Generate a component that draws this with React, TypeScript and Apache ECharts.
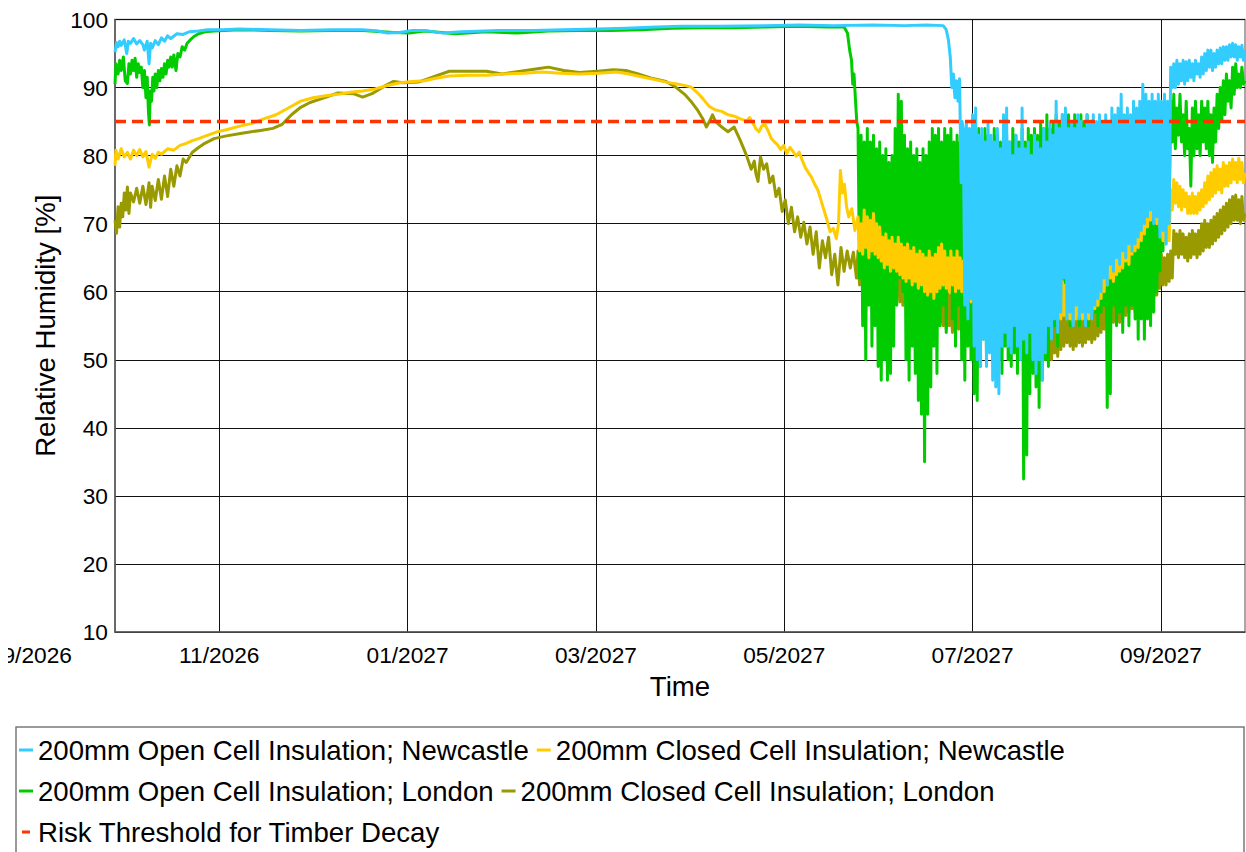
import React, { useEffect, useRef } from 'react';
import * as echarts from 'echarts';

const FONT = '"Liberation Sans", Arial, Helvetica, sans-serif';

// x values: days since the start of the record (28 Sep 2026, 12:00); one year shown
const RECORD_DAYS = 365;
// grid lines every 1460 h; the first one lies before the record start
const TICK_DAYS = [-27.17, 33.67, 94.5, 155.33, 216.17, 277.0, 337.83];
const TICK_LABELS = ['09/2026', '11/2026', '01/2027', '03/2027', '05/2027', '07/2027', '09/2027'];

const Y_MIN = 10;
const Y_MAX = 100;
const THRESHOLD = 85;

const NAMES = {
  ncOpen: '200mm Open Cell Insulation; Newcastle',
  ncClosed: '200mm Closed Cell Insulation; Newcastle',
  ldOpen: '200mm Open Cell Insulation; London',
  ldClosed: '200mm Closed Cell Insulation; London',
  risk: 'Risk Threshold for Timber Decay',
};

// ---- Newcastle, open cell: trace, then daily highs / lows from day 274 ----
const ncOpenTrace = [
  [0, 95.2], [0.5, 96.6], [1, 96.0], [1.5, 96.8], [2, 96.2], [3, 97.0], [3.8, 95.0], [4.3, 96.8], [5, 96.5], [6, 97.2],
  [7, 96.4], [8, 96.9], [9, 96.3], [9.5, 95.5], [10.4, 96.8], [11, 93.5], [11.5, 96.5], [12, 95.8], [13, 96.9], [14, 96.3],
  [15, 97.3], [16, 96.8], [17, 97.6], [18, 97.2], [20, 97.9], [22, 97.8], [24, 98.2], [27, 98.3], [30, 98.5], [35, 98.5],
  [40, 98.6], [50, 98.5], [60, 98.4], [70, 98.5], [80, 98.5], [85, 98.3], [88, 98.0], [92, 98.1], [96, 98.4], [100, 98.4],
  [106, 98.0], [112, 98.2], [124, 98.4], [135, 98.4], [145, 98.5], [156, 98.6], [165, 98.7], [175, 98.9], [183, 99.0], [195, 99.0],
  [210, 99.1], [221, 99.2], [232, 99.1], [245, 99.2], [255, 99.1], [262, 99.2], [267.5, 99.1], [268.5, 98.5], [269.2, 97.0], [269.8, 94.5],
  [270.3, 90.0], [270.8, 92.0], [271.3, 88.5], [271.8, 91.0], [272.3, 88.0], [272.8, 91.3], [273.3, 76.0], [273.6, 85.0],
];
const ncOpenDailyStart = 274;
const ncOpenHigh = [
  84, 85, 84, 86, 87, 83, 84, 82, 85, 83,
  82, 84, 81, 86, 87, 82, 80, 83, 81, 87,
  81, 82, 80, 83, 82, 81, 84, 82, 85, 83,
  88, 84, 86, 87, 84, 85, 84, 86, 85, 84,
  86, 85, 86, 85, 86, 85, 86, 85, 87, 86,
  87, 89, 86, 87, 86, 88, 87, 88, 90.5, 89,
  88, 89, 88, 89, 88, 89, 88, 93, 93.5, 94,
  93.5, 94, 93.8, 94, 93.5, 94, 93.5, 94.5, 95, 95.5,
  95.5, 95, 95.5, 95.8, 96, 96, 96.3, 96.5, 96.3, 96,
  96.2,
];
const ncOpenLow = [
  58, 56, 59, 52, 50, 49, 53, 49, 51, 47,
  46, 45, 52, 54, 52, 51, 55, 52, 50, 53,
  51, 54, 50, 48, 50, 47, 51, 55, 53, 56,
  54, 57, 62, 56, 57, 55, 58, 56, 57, 55,
  57, 56, 58, 59, 60, 62, 61, 64, 63, 65,
  64, 66, 65, 67, 66, 67, 68, 69, 70, 71,
  72, 70, 71, 68, 69, 67, 70, 90, 90, 90.5,
  91, 90.5, 91, 91.5, 91, 92, 91.5, 92, 92.5, 93,
  92.5, 93, 93.5, 93.5, 94, 94, 94.5, 94.5, 94, 94.5,
  94,
];
const ncOpenEnd = [365, 95.5];

// ---- London, open cell ----
const ldOpenTrace = [
  [0, 90.5], [0.3, 93.5], [1, 92.0], [1.5, 94.0], [2, 92.5], [2.7, 94.5], [3.3, 91.0], [4, 90.6], [4.5, 93.5], [5, 92.0],
  [5.5, 94.0], [6, 92.5], [6.5, 94.3], [7, 91.5], [7.5, 93.5], [8, 92.2], [8.5, 93.0], [9, 90.0], [9.5, 92.5], [10, 88.5],
  [10.4, 91.5], [10.8, 86.5], [11.1, 84.5], [11.4, 89.5], [11.8, 88.0], [12.2, 91.5], [12.6, 89.5], [13, 92.0], [13.5, 90.0], [14, 92.5],
  [14.5, 91.0], [15, 92.8], [15.5, 91.5], [16, 93.5], [16.5, 92.0], [17, 94.0], [17.5, 93.0], [18, 94.5], [18.5, 93.0], [19, 94.8],
  [19.7, 92.5], [20.3, 95.0], [21, 94.5], [21.7, 96.0], [22.5, 95.5], [23.3, 96.5], [24.3, 97.0], [25.5, 97.5], [27, 97.9], [29, 98.2],
  [32, 98.3], [40, 98.5], [50, 98.4], [60, 98.3], [70, 98.4], [80, 98.4], [90, 98.1], [95, 98.0], [100, 98.3], [110, 97.9],
  [120, 98.2], [130, 98.0], [140, 98.3], [150, 98.4], [160, 98.4], [170, 98.5], [180, 98.7], [190, 98.8], [200, 98.8], [210, 98.9],
  [220, 99.0], [230, 98.9], [235.5, 98.9], [236.6, 98.0], [237.3, 95.5], [237.9, 94.0], [238.3, 90.5], [238.7, 92.0], [239.2, 88.0], [239.6, 85.0],
];
const ldOpenDailyStart = 240;
const ldOpenHigh = [
  84, 83, 82, 84, 82, 83, 81, 82, 80, 81,
  79, 80, 84, 89, 88, 83, 81, 82, 80, 81,
  79, 81, 80, 82, 84, 83, 84, 82, 84, 83,
  84, 82, 83, 82, 83, 84, 82, 84, 83, 84,
  82, 84, 83, 82, 84, 83, 82, 84, 83, 82,
  84, 83, 82, 84, 82, 84, 83, 84, 83, 85,
  84, 86, 84, 85, 86, 85, 86, 85, 86, 85,
  86, 85, 86, 85, 86, 84, 85, 84, 83, 80,
  76, 74, 78, 76, 80, 78, 82, 80, 82, 81,
  83, 84, 82, 80, 79, 78, 76, 75, 76, 77,
  80, 88, 89, 87, 89, 86, 88, 84, 87, 88,
  86, 88, 87, 88, 86, 87, 89, 90, 91, 92,
  91, 93, 93.5, 92, 93,
];
const ldOpenLow = [
  62, 55, 50, 58, 52, 55, 49, 47, 50, 47,
  48, 52, 58, 62, 60, 50, 47, 52, 48, 44,
  42, 35, 42, 46, 52, 48, 55, 58, 54, 60,
  56, 52, 58, 50, 47, 52, 50, 45, 44, 49,
  53, 51, 54, 50, 52, 50, 48, 52, 50, 49,
  51, 48, 52, 32.5, 36, 45, 48, 46, 43, 47,
  50, 49, 53, 55, 52, 57, 58, 56, 55, 58,
  57, 55, 58, 56, 55, 58, 57, 55, 57, 58,
  43, 45, 58, 55, 57, 54, 58, 55, 58, 56,
  53, 56, 53, 56, 55, 57, 60, 63, 66, 70,
  72, 82, 81, 83, 82, 80, 81, 75.5, 80, 81,
  80, 82, 81, 80, 79, 82, 84, 85, 86, 88,
  87, 89, 90, 90, 90.5,
];
const ldOpenEnd = [365, 91];

// ---- Newcastle, closed cell ----
const ncClosedTrace = [
  [0, 78.5], [0.3, 80.8], [1, 79.5], [2, 81.0], [3, 79.8], [4, 80.5], [5, 79.5], [6, 80.8], [7, 80.0], [8, 80.9],
  [9, 79.8], [10, 80.6], [11, 78.3], [12, 80.2], [13, 79.6], [14, 80.5], [15, 80.2], [17, 81.0], [19, 80.8], [21, 81.5],
  [23, 81.8], [25, 82.2], [27, 82.5], [30, 83.0], [33, 83.5], [36, 83.8], [40, 84.3], [44, 84.7], [48, 85.4], [52, 86.0],
  [56, 87.0], [60, 88.0], [64, 88.5], [68, 88.8], [72, 89.0], [76, 89.3], [80, 89.5], [84, 89.8], [88, 90.3], [92, 90.7],
  [96, 90.9], [100, 91.0], [104, 91.4], [108, 91.7], [114, 91.8], [120, 91.8], [126, 92.0], [132, 92.1], [138, 92.3], [144, 92.1],
  [150, 92.0], [156, 92.1], [162, 92.3], [166, 92.0], [170, 91.6], [174, 91.2], [178, 90.8], [182, 90.5], [186, 90.1], [188, 89.3],
  [190, 88.3], [192, 87.2], [194, 86.7], [196, 86.5], [198, 86.0], [200, 85.8], [202, 85.4], [204, 85.1], [205, 85.6], [206, 84.8],
  [207, 84.0], [208, 83.5], [209, 84.4], [210, 84.5], [211, 83.6], [212, 82.5], [213, 82.0], [214, 81.6], [215, 80.9], [216, 81.5],
  [217, 80.3], [218, 81.2], [219, 80.6], [220, 79.9], [221, 80.5], [222, 79.3], [223, 78.2], [224, 77.5], [225, 76.8], [226, 75.8],
  [227, 75.0], [228, 73.5], [229, 72.0], [230, 70.5], [231, 68.8], [232, 69.3], [233, 67.8], [233.7, 70.0], [234.3, 77.8], [235, 74.5],
  [235.6, 75.8], [236.3, 72.5], [237, 71.0], [238, 72.2], [239, 69.0],
];
const ncClosedDailyStart = 240;
const ncClosedHigh = [
  71, 70, 72, 71, 70.5, 71.5, 70, 69.5, 68, 68.5,
  67.5, 68, 67, 68, 67, 66.5, 67, 66, 66.5, 65.5,
  66, 65.5, 65, 66, 65, 65.5, 66.5, 67, 66, 65,
  66, 65, 66, 65, 64.5, 65, 64, 64.5, 63.5, 64,
  65, 64, 63.5, 64, 63, 64, 63.5, 64, 63, 63.5,
  64, 63, 62.5, 63, 62.5, 63, 62, 62.5, 62, 61.5,
  62, 61.5, 62, 61, 61.5, 61, 61.5, 61, 60.5, 61,
  60.5, 61, 61.5, 61, 61.5, 62, 62.5, 63, 64, 65,
  66, 67, 66.5, 68, 67.5, 69, 70, 69.5, 71, 72,
  71.5, 73, 74, 75.5, 76.5, 77, 76, 75, 71.5, 71,
  71.5, 75, 76.5, 76, 75.5, 75, 74.5, 74, 74.5, 74,
  74.5, 75, 76, 77, 77.5, 78, 78.5, 78, 79, 78.5,
  79, 79.5, 79, 79.6, 79,
];
const ncClosedLow = [
  66, 65.5, 66.5, 65, 66, 65.5, 65, 64.5, 63.5, 64,
  63, 63.5, 63, 62.5, 62, 61.5, 62, 61, 61.5, 60.5,
  61, 60, 59.5, 60, 59, 60, 60.5, 61, 60.5, 60,
  61, 60, 60.5, 60, 59.5, 59, 58.5, 59, 58, 58.5,
  59, 58, 58.5, 58, 57.5, 58, 59, 58.5, 58, 59,
  58.5, 58, 57.5, 58, 57.5, 57, 57, 57.5, 56.5, 57,
  56.5, 56.5, 57, 56.5, 56, 56, 56.5, 56, 56, 55.5,
  56, 56.5, 56, 56.5, 56, 57, 57.5, 58, 59, 60,
  61, 62, 61.5, 62.5, 63, 63.5, 64.5, 64, 65.5, 66,
  66.5, 67.5, 68.5, 69.5, 70.5, 71, 70, 69.5, 67.5, 67,
  67.5, 72, 73, 72.5, 72, 72.5, 71.5, 71.5, 71.5, 71.5,
  72, 72.5, 73, 73.5, 74, 74.5, 75, 74.5, 75.5, 75.5,
  76, 76.5, 76, 76.5, 76,
];
const ncClosedEnd = [365, 77.5];

// ---- London, closed cell ----
const ldClosedTrace = [
  [0, 70.5], [0.5, 68.6], [1, 72.5], [1.5, 69.5], [2, 73.0], [2.5, 71.0], [3, 74.5], [3.5, 72.0], [4, 75.4], [4.5, 71.5],
  [5, 74.5], [6, 73.2], [7, 75.2], [8, 73.0], [9, 75.5], [10, 72.8], [11, 76.0], [11.5, 72.4], [12, 75.5], [13, 73.4],
  [14, 76.5], [15, 73.6], [16, 77.0], [17, 74.0], [18, 78.0], [19, 75.5], [20, 78.5], [21, 77.0], [22, 79.5], [23, 79.0],
  [25, 80.5], [27, 81.2], [29, 81.8], [32, 82.5], [36, 82.9], [41, 83.3], [47, 83.7], [51, 84.0], [54, 84.6], [57, 86.0],
  [60, 87.1], [63, 87.8], [67, 88.4], [72, 89.2], [77, 89.1], [80, 88.6], [83, 89.1], [87, 90.2], [90, 90.9], [93, 90.7],
  [98, 90.8], [103, 91.6], [108, 92.4], [114, 92.4], [120, 92.4], [125, 92.0], [131, 92.4], [137, 92.8], [140, 93.0], [145, 92.5],
  [150, 92.2], [156, 92.4], [161, 92.6], [165, 92.5], [169, 92.0], [173, 91.4], [178, 90.9], [181, 90.1], [184, 89.0], [186, 88.0],
  [188, 86.8], [190, 85.3], [191, 84.2], [192, 85.0], [193, 86.0], [194, 85.0], [196, 84.2], [198, 83.5], [200, 84.2], [202, 82.2],
  [204, 80.0], [205.5, 78.0], [206.5, 79.2], [207, 77.4], [207.7, 76.2], [208.5, 79.8], [209.5, 78.0], [210.5, 78.8], [211.5, 76.0], [212.5, 77.0],
  [213.5, 74.0], [214.5, 75.2], [215.5, 71.8], [216.5, 73.5], [217.5, 70.0], [218.5, 72.4], [219.5, 68.8], [220.5, 71.0], [221.5, 68.0], [222.5, 70.2],
  [223.5, 67.0], [224.5, 69.5], [225.5, 65.5], [226.5, 68.8], [227.5, 63.5], [228.5, 67.5], [229.5, 65.0], [230.5, 68.0], [231.5, 62.5], [232.5, 65.5],
  [233.5, 61.0], [234.5, 66.5], [235.5, 63.0], [236.5, 66.0], [237.5, 63.5], [238.5, 65.8], [239.5, 62.0],
];
const ldClosedDailyStart = 240;
const ldClosedHigh = [
  66, 65.5, 66, 65, 65.5, 64.5, 65, 64, 64.5, 63.5,
  64, 63, 63.5, 63, 62.5, 63, 62, 62.5, 62, 61.5,
  62, 61, 61.5, 60.5, 61, 60, 60.5, 60, 59.5, 60,
  59.5, 59, 59.5, 59, 59.5, 59, 58.5, 59, 58.5, 58,
  58.5, 58, 57.5, 58, 57.5, 58, 58.5, 58, 57.5, 57,
  56.5, 56, 55.5, 56, 55, 55.5, 55, 55.5, 55, 54.5,
  55, 55.5, 55, 56, 55.5, 56, 57, 57.5, 57, 56.5,
  57, 57.5, 57, 57.5, 58, 57.5, 58, 58.5, 59, 59.5,
  60, 59.5, 60.5, 61, 60.5, 61, 61.5, 62, 62.5, 62,
  62.5, 63, 63.5, 63, 63.5, 64, 64.5, 65, 65.5, 65,
  65.5, 66, 69, 68.5, 69, 68.5, 68, 68.5, 69, 68.5,
  69, 70, 70.5, 70, 70.5, 71, 71.5, 72, 72.5, 73,
  73.5, 74, 74.2, 73.5, 74,
];
const ldClosedLow = [
  61, 60.5, 61, 60, 60.5, 60, 59.5, 59, 59.5, 59,
  58.5, 58, 59.5, 58.5, 58, 58.5, 57.5, 57.5, 57, 56.5,
  57, 56, 56.5, 55.5, 55.5, 55, 55.5, 55, 54.5, 55,
  54, 54.5, 54.5, 54, 54.5, 53.5, 53.5, 54, 53, 53,
  53.5, 52.5, 52.5, 53, 52.5, 53, 55, 54.5, 54, 53.5,
  52.5, 52, 51.5, 51, 50.5, 50.5, 50, 50.5, 50, 49.5,
  50, 50.5, 50, 51, 50.5, 51.5, 52, 52.5, 52, 51.5,
  52, 52.5, 52, 52.5, 53, 52.5, 53, 53.5, 54, 54.5,
  55, 54.5, 55.5, 56, 55.5, 56, 56.5, 57, 57.5, 57,
  57.5, 58, 58.5, 58, 58.5, 59, 59.5, 60.5, 61, 61,
  61.5, 62, 65.5, 65, 65.5, 65, 64.5, 65, 65.5, 65,
  65.5, 66, 66.5, 66.5, 67, 67.5, 68, 68.5, 69, 69.5,
  70, 70.5, 70.5, 70, 70.5,
];
const ldClosedEnd = [365, 71.5];

const COLORS = {
  ncOpen: '#33CCFF',
  ncClosed: '#FFCC00',
  ldOpen: '#00CC00',
  ldClosed: '#999900',
  risk: '#FF3300',
};

// trace points, then each day's high (at the day) and low (half a day later)
function buildSeriesData(trace, dailyStart, highs, lows, end) {
  const pts = trace.map((p) => [p[0], p[1]]);
  highs.forEach((h, i) => {
    pts.push([dailyStart + i, h]);
    pts.push([dailyStart + i + 0.5, lows[i]]);
  });
  pts.push([end[0], end[1]]);
  return pts;
}

function tickLabel(v) {
  for (let i = 0; i < TICK_DAYS.length; i++) {
    if (Math.abs(TICK_DAYS[i] - v) < 0.01) return TICK_LABELS[i];
  }
  return '';
}

const AXIS_LABEL_SIZE = 22.7;
const NAME_SIZE = 27.6;
const X_LABEL_MARGIN = 11;

function lineSeries(name, color, data, extra = {}) {
  return {
    name,
    type: 'line',
    data,
    color,
    showSymbol: false,
    symbol: 'none',
    silent: true,
    clip: true,
    emphasis: { disabled: true },
    itemStyle: { color },
    lineStyle: { color, width: 3, join: 'round', ...extra },
    z: 2,
  };
}

export default function App() {
  const ref = useRef(null);

  useEffect(() => {
    if (!ref.current) return;
    const chart = echarts.init(ref.current, null, { renderer: 'svg' });

    const ldOpen = buildSeriesData(ldOpenTrace, ldOpenDailyStart, ldOpenHigh, ldOpenLow, ldOpenEnd);
    const ldClosed = buildSeriesData(ldClosedTrace, ldClosedDailyStart, ldClosedHigh, ldClosedLow, ldClosedEnd);
    const ncClosed = buildSeriesData(ncClosedTrace, ncClosedDailyStart, ncClosedHigh, ncClosedLow, ncClosedEnd);
    const ncOpen = buildSeriesData(ncOpenTrace, ncOpenDailyStart, ncOpenHigh, ncOpenLow, ncOpenEnd);
    const risk = [[0, THRESHOLD], [RECORD_DAYS, THRESHOLD]];

    chart.setOption({
      animation: false,
      backgroundColor: '#ffffff',
      textStyle: { fontFamily: FONT },
      grid: {
        left: 107,
        top: 11,
        width: 1130,
        height: 613,
        show: true,
        borderColor: '#8a8a8a',
        borderWidth: 1.5,
        containLabel: false,
      },
      xAxis: {
        type: 'value',
        min: 0,
        max: RECORD_DAYS,
        name: 'Time',
        nameLocation: 'middle',
        nameGap: 40,
        nameTextStyle: { fontSize: NAME_SIZE, color: '#000', fontFamily: FONT },
        axisLine: { show: true, onZero: false, lineStyle: { color: '#555', width: 1.5 } },
        axisTick: { show: false, customValues: TICK_DAYS },
        axisLabel: {
          customValues: TICK_DAYS,
          formatter: (v) => tickLabel(v),
          fontSize: AXIS_LABEL_SIZE,
          color: '#000',
          margin: X_LABEL_MARGIN,
          fontFamily: FONT,
        },
        splitLine: { show: true, lineStyle: { color: '#111', width: 1 } },
      },
      yAxis: {
        type: 'value',
        min: Y_MIN,
        max: Y_MAX,
        interval: 10,
        name: 'Relative Humidity [%]',
        nameLocation: 'middle',
        nameRotate: 90,
        nameGap: 50,
        nameTextStyle: { fontSize: NAME_SIZE, color: '#000', fontFamily: FONT },
        axisLine: { show: true, lineStyle: { color: '#555', width: 1.5 } },
        axisTick: { show: false },
        axisLabel: { fontSize: AXIS_LABEL_SIZE, color: '#000', margin: 7, fontFamily: FONT },
        splitLine: { show: true, lineStyle: { color: '#111', width: 1 } },
      },
      legend: {
        data: [
          { name: NAMES.ncOpen },
          { name: NAMES.ncClosed },
          { name: NAMES.ldOpen },
          { name: NAMES.ldClosed },
          { name: NAMES.risk, icon: 'path://M0,0M3,0L11,0L11,3L3,3ZM14,3' },
        ],
        left: 11,
        top: 725.5,
        width: 1220,
        padding: 0,
        itemGap: 8,
        itemWidth: 14,
        itemHeight: 3,
        icon: 'rect',
        itemStyle: { borderWidth: 0 },
        selectedMode: false,
        textStyle: { fontSize: NAME_SIZE, color: '#000', lineHeight: 33, fontFamily: FONT },
      },
      // drawing order: London closed, London open, Newcastle closed, Newcastle open, threshold on top
      series: [
        lineSeries(NAMES.ldClosed, COLORS.ldClosed, ldClosed),
        lineSeries(NAMES.ldOpen, COLORS.ldOpen, ldOpen),
        lineSeries(NAMES.ncClosed, COLORS.ncClosed, ncClosed),
        lineSeries(NAMES.ncOpen, COLORS.ncOpen, ncOpen),
        lineSeries(NAMES.risk, COLORS.risk, risk, { width: 3.5, type: [11, 6], cap: 'butt' }),
      ],
    });

    // the first grid line falls left of the plot; its label is placed on the same scale
    const firstX = chart.convertToPixel({ xAxisIndex: 0 }, TICK_DAYS[0]);
    const axisY = chart.convertToPixel({ yAxisIndex: 0 }, Y_MIN);
    chart.setOption({
      graphic: [
        {
          type: 'rect',
          silent: true,
          shape: { x: 8, y: 719, width: 1228, height: 160 },
          style: { fill: 'none', stroke: '#7a7a7a', lineWidth: 1.5 },
        },
        {
          type: 'text',
          silent: true,
          x: firstX,
          y: axisY + X_LABEL_MARGIN,
          style: {
            text: TICK_LABELS[0],
            align: 'center',
            verticalAlign: 'top',
            fontSize: AXIS_LABEL_SIZE,
            fontFamily: FONT,
            fill: '#000',
          },
        },
      ],
    });

    return () => chart.dispose();
  }, []);

  return (
    <div
      ref={ref}
      style={{ position: 'absolute', left: 8, top: 8, width: 1238, height: 844, background: '#fff' }}
    />
  );
}
